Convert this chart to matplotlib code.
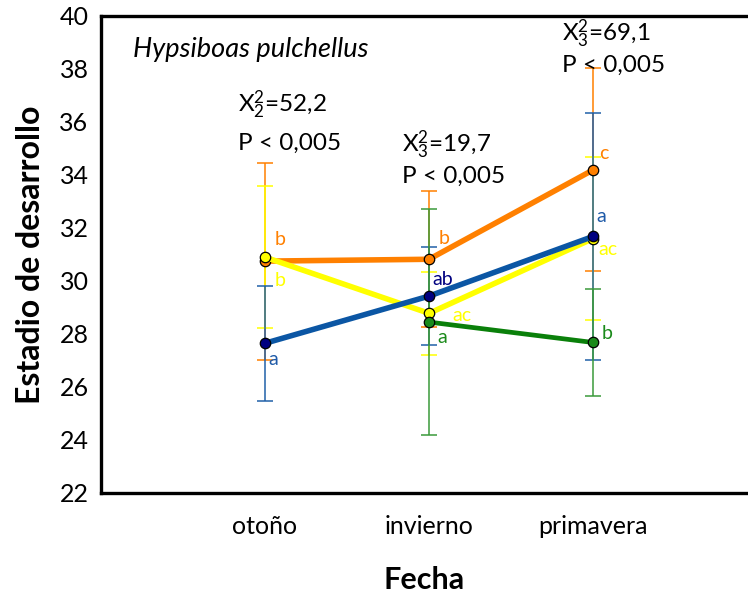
import numpy as np
import matplotlib
matplotlib.use("Agg")
import matplotlib.pyplot as plt

plt.rcParams['font.family'] = ['Lato', 'DejaVu Sans']
plt.rcParams['mathtext.fontset'] = 'custom'
plt.rcParams['mathtext.rm'] = 'Lato'
plt.rcParams['mathtext.it'] = 'Lato:italic'

seasons = ["otoño", "invierno", "primavera"]

orange_mean = [30.75, 30.82, 34.19]
orange_err = [3.72, 2.57, 3.83]
yellow_mean = [30.90, 28.78, 31.60]
yellow_err = [2.67, 1.57, 3.07]
blue_mean = [27.65, 29.43, 31.68]
blue_err = [2.18, 1.84, 4.65]
green_mean = [np.nan, 28.45, 27.68]
green_err = [np.nan, 4.25, 2.01]

orange_letters = ["b", "b", "c"]
yellow_letters = ["b", "ac", "ac"]
blue_letters = ["a", "ab", "a"]
green_letters = ["", "a", "b"]

stat_lines = [("X$^{2}_{2}$=52,2", "P < 0,005"),
              ("X$^{2}_{3}$=19,7", "P < 0,005"),
              ("X$^{2}_{3}$=69,1", "P < 0,005")]

fig = plt.figure(figsize=(7.48, 5.98), dpi=100)
ax = fig.add_axes([101/748, 1-493/598, 1-101/748, (493-16)/598])

x = np.arange(1, 4)

series = [
    (orange_mean, orange_err, "#FF8000", "#FF8000", "#FF8000", 1, 4.0),
    (yellow_mean, yellow_err, "#FFFF00", "#FFFF00", "#FFFF00", 2, 4.0),
    (blue_mean, blue_err, "#0B56A4", "#000080", "#2060A8", 3, 4.0),
    (green_mean, green_err, "#0A800A", "#1A8A1A", "#3A9A3A", 4, 3.4),
]

# error bars first, then lines with markers on top
for mean, err, lc, mc, ec, z, lw in series:
    ax.errorbar(x, mean, yerr=err, fmt='none', ecolor=ec, elinewidth=1.1,
                capsize=6, capthick=1.1, zorder=z)
for mean, err, lc, mc, ec, z, lw in series:
    ax.plot(x, mean, color=lc, lw=lw, marker='o', markersize=7.5,
            markerfacecolor=mc, markeredgecolor='black', markeredgewidth=0.9,
            zorder=10 + z)

# significance letters: (x, y) per category
letter_specs = [
    (orange_letters, ["#FF8000"] * 3,
     [(1.06, 31.55), (2.06, 31.62), (3.04, 34.83)]),
    (yellow_letters, ["#FFFF00"] * 3,
     [(1.06, 30.0), (2.14, 28.68), (3.03, 31.17)]),
    (blue_letters, ["#1E5AA8", "#000080", "#1E5AA8"],
     [(1.02, 27.02), (2.02, 30.04), (3.02, 32.45)]),
    (green_letters, ["#1A8A1A"] * 3,
     [(None, None), (2.05, 27.85), (3.05, 28.0)]),
]
for labels, cols, positions in letter_specs:
    for lab, col, (px, py) in zip(labels, cols, positions):
        if lab:
            ax.text(px, py, lab, color=col, fontsize=14, ha='left',
                    va='center', zorder=30)

# chi-square annotations
stat_xy = [(0.835, 36.62, 35.2), (1.835, 35.1, 33.95), (2.81, 39.3, 38.12)]
for (sx, y1, y2), (t1, t2) in zip(stat_xy, stat_lines):
    ax.text(sx, y1, t1, fontsize=17.5, ha='left', va='center', zorder=30)
    ax.text(sx, y2, t2, fontsize=17.5, ha='left', va='center', zorder=30)

ax.text(0.195, 38.72, "Hypsiboas pulchellus", fontsize=19.5, style='italic',
        ha='left', va='center')

ax.set_xlim(0, (748 - 101) / 164)
ax.set_ylim(22, 40)
ax.set_yticks(np.arange(22, 41, 2))
ax.set_xticks(x)
ax.set_xticklabels(seasons)
ax.tick_params(axis='both', length=0, labelsize=18)
ax.tick_params(axis='y', pad=9)
ax.tick_params(axis='x', pad=16)

for side in ['left', 'top', 'bottom']:
    ax.spines[side].set_linewidth(2.4)
    ax.spines[side].set_color('black')
ax.spines['right'].set_visible(False)

ax.set_ylabel("Estadio de desarrollo", fontsize=23, fontweight='bold',
              labelpad=10)
ax.set_xlabel("Fecha", fontsize=22, fontweight='bold', labelpad=20)

fig.savefig("out.png", dpi=100)
